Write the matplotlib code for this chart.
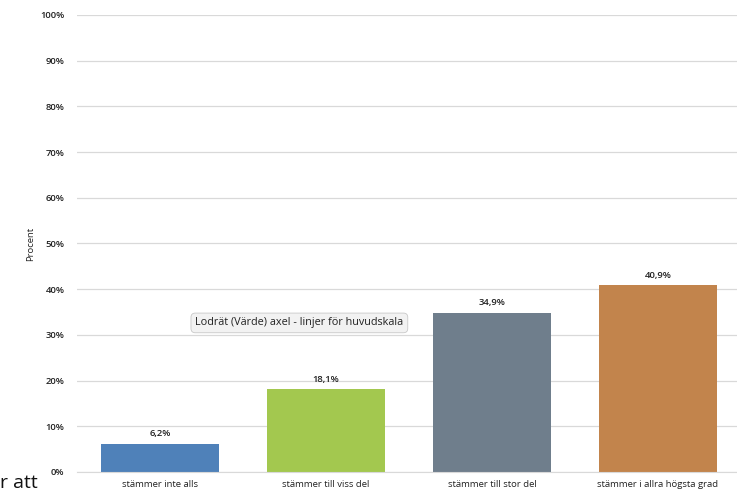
import matplotlib
matplotlib.use('Agg')
import matplotlib.pyplot as plt

categories = ['stämmer inte alls', 'stämmer till viss del',
              'stämmer till stor del', 'stämmer i allra högsta grad']
values = [6.2, 18.1, 34.9, 40.9]
labels = ['6,2%', '18,1%', '34,9%', '40,9%']
colors = ['#4f81b9', '#a3c84f', '#6f7e8c', '#c2844c']
yticks = list(range(0, 101, 10))

plt.rcParams['font.family'] = ['Open Sans', 'DejaVu Sans']

fig = plt.figure(figsize=(7.37, 4.93), dpi=100)
ax = fig.add_axes([0.1045, 0.0426, 0.901, 0.927])

x = range(len(categories))
ax.bar(x, values, width=0.71, color=colors, zorder=2)

# value labels above bars
for xi, v, lab in zip(x, values, labels):
    ax.text(xi, v + 1.2, lab, ha='center', va='bottom',
            fontsize=6.8, color='#222222', fontweight='semibold')

ax.set_xlim(-0.5, len(categories) - 0.5)
ax.set_ylim(0, 100)
ax.set_yticks(yticks)
ax.set_yticklabels([f'{t}%' for t in yticks], fontweight='semibold')
ax.set_xticks(list(x))
ax.set_xticklabels(categories)
ax.tick_params(axis='both', length=0, labelsize=6.8, labelcolor='#222222')
ax.tick_params(axis='y', pad=9)
ax.tick_params(axis='x', pad=6)

ax.yaxis.grid(True, color='#d9d9d9', lw=0.9, zorder=0)
ax.set_axisbelow(True)
for s in ['top', 'right', 'left']:
    ax.spines[s].set_visible(False)
ax.spines['bottom'].set_color('#d9d9d9')

ax.set_ylabel('Procent', fontsize=6.8, color='#222222', labelpad=4)

# tooltip box
fig.text(0.265, 0.345, 'Lodrät (Värde) axel - linjer för huvudskala',
         fontsize=7.8, color='#222222', ha='left', va='center',
         bbox=dict(boxstyle='round,pad=0.4', fc='#f2f2f2', ec='#c8c8c8', lw=0.6))

# partially visible surrounding text
fig.text(0.0, 0.002, 'r att', fontsize=14, color='#111111',
         ha='left', va='bottom')

fig.savefig('out.png', dpi=100)
